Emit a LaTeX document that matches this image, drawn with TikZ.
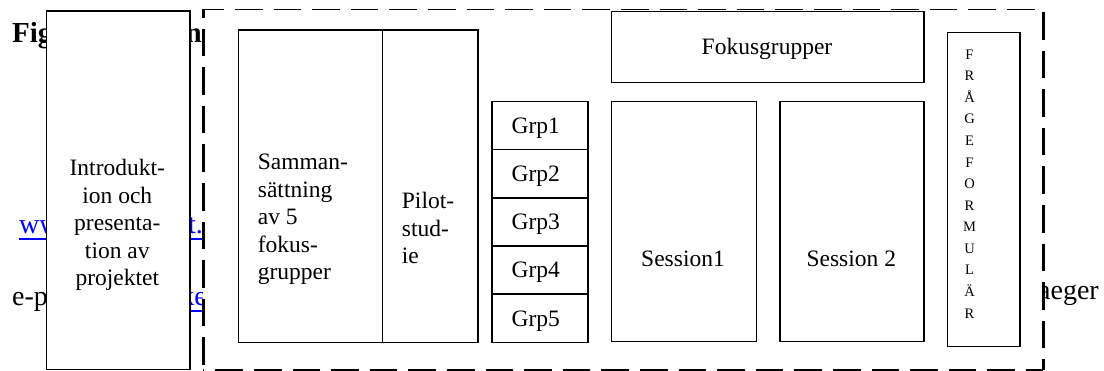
\documentclass[tikz,border=0pt]{standalone}
\usepackage{fontspec}
\setmainfont{Liberation Serif}
\definecolor{linkblue}{RGB}{0,0,255}
\begin{document}
\begin{tikzpicture}[x=1pt,y=-1pt,
  box/.style={draw=black, line width=1.5pt, fill=white, inner sep=0pt, anchor=north west},
  txt/.style={font=\fontsize{23.5}{27.5}\selectfont, inner sep=0pt},
  small/.style={font=\fontsize{14.5}{16}\selectfont, inner sep=0pt, anchor=base},
  bg/.style={font=\fontsize{28}{32}\selectfont, inner sep=0pt},
  bgbold/.style={font=\fontsize{29}{33}\selectfont\bfseries, inner sep=0pt},
  link/.style={text=linkblue},
  uline/.style={draw=linkblue, line width=1.3pt},
  hdash/.style={line width=1.5pt, dash pattern=on 27.6pt off 11pt},
  vdash/.style={line width=3pt, dash pattern=on 27.6pt off 11pt}
]
\useasboundingbox (0,0) rectangle (1104,371);
% background document text (mostly hidden)
\node[bgbold, anchor=base west] (fig) at (12,43) {Fig};
\node[bgbold, anchor=base east] (fign) at (202,43) {n};
\node[bg, link, anchor=base west] (www) at (19,234) {ww};
\node[bg, link, anchor=base east] (wwt) at (203,234) {t.};
\node[bg, anchor=base west] (ep) at (12,306) {e-p};
\node[bg, link, anchor=base east] (ke) at (207,306) {ke};
\node[bg, anchor=base east] (aeger) at (1099,300) {aeger};
\draw[uline] (19,239) -- (46,239);
\draw[uline] (188,239) -- (203,239);
\draw[uline] (188,311) -- (203,311);
% white area of the dashed frame
\fill[white] (203,9.5) rectangle (1043,370);
% intro box
\node[box, minimum width=143.3pt, minimum height=358.7pt] (intro) at (45.7,10.3) {};
\node[txt, align=center, anchor=north] (introtxt) at (117.3,159) {Introdukt-\\ion och\\presenta-\\tion av\\projektet};
% dashed frame
\draw[hdash, dash phase=6.6pt] (203,9.5) -- (1043,9.5);
\draw[vdash, dash phase=36.1pt] (1043,9.5) -- (1043,370);
\draw[hdash, dash phase=10.6pt] (1043,370) -- (203,370);
\draw[vdash, dash phase=33.6pt] (203,370) -- (203,9.5);
% boxes
\node[box, minimum width=144pt, minimum height=312.4pt] (samman) at (237.7,29.3) {};
\node[box, minimum width=95.6pt, minimum height=312.4pt] (pilot) at (381.7,29.3) {};
\node[txt, align=left, anchor=north west] (sammantxt) at (257.7,154) {Samman-\\sättning\\av 5\\fokus-\\grupper};
\node[txt, align=left, anchor=north west] (pilottxt) at (401.7,192) {Pilot-\\stud-\\ie};
\foreach \i/\y in {1/100.7,2/148.9,3/197.1,4/245.3,5/293.5}{
  \node[box, minimum width=96.3pt, minimum height=48.2pt] (grp\i) at (491,\y) {};
  \node[txt, anchor=base west] (grptxt\i) at (511.5,\y+32.6) {Grp\i};
}
\node[box, minimum width=312.6pt, minimum height=70.7pt] (fokus) at (610.7,11) {};
\node[txt, anchor=base] (fokustxt) at (767,55) {Fokusgrupper};
\node[box, minimum width=145pt, minimum height=240pt] (s1) at (610.7,100.7) {};
\node[txt, anchor=base] (s1txt) at (683,266.5) {Session1};
\node[box, minimum width=144pt, minimum height=240pt] (s2) at (779.3,100.7) {};
\node[txt, anchor=base] (s2txt) at (851.3,266.5) {Session 2};
\node[box, minimum width=72.3pt, minimum height=313.7pt] (fraga) at (946.7,32) {};
\foreach \c [count=\k from 0] in {F,R,Å,G,E,F,O,R,M,U,L,Ä,R}{
  \node[small] (fr\k) at (969.5,59.3+21.56*\k) {\c};
}
\end{tikzpicture}
\end{document}
